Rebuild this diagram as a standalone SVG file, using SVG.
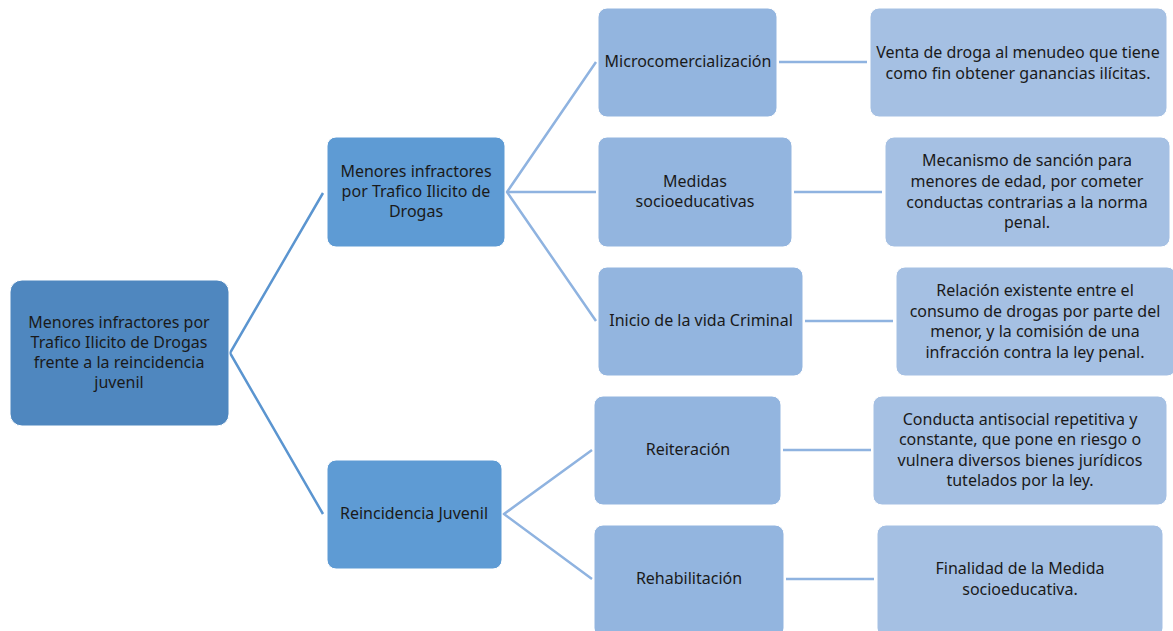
<svg xmlns="http://www.w3.org/2000/svg" width="1173" height="631" viewBox="0 0 1173 631">
<style>
text{font-family:"Noto Sans","Liberation Sans",Arial,sans-serif;font-size:16px;fill:#1a1a1a;text-anchor:middle}
.n0{fill:#4f87bf;stroke:#ffffff;stroke-width:1}
.n1{fill:#5e9bd4;stroke:#ffffff;stroke-width:1}
.n2{fill:#93b5df;stroke:#ffffff;stroke-width:1}
.n3{fill:#a5c0e3;stroke:#ffffff;stroke-width:1}
.c1{stroke:#5b95d0;stroke-width:2.5;fill:none}
.c2{stroke:#8fb3e0;stroke-width:2.5;fill:none}
</style>
<rect width="1173" height="631" fill="#ffffff"/>
<g id="connectors">
<polyline class="c1" points="323,193 230,353 323,514"/>
<polyline class="c2" points="596,62 507,192 596,321"/>
<line class="c2" x1="507" y1="192" x2="596" y2="192"/>
<polyline class="c2" points="592,450 504,514 592,579"/>
<line class="c2" x1="779" y1="62" x2="867" y2="62"/>
<line class="c2" x1="794" y1="192" x2="882" y2="192"/>
<line class="c2" x1="805" y1="321" x2="893" y2="321"/>
<line class="c2" x1="783" y1="450" x2="871" y2="450"/>
<line class="c2" x1="786" y1="579" x2="874" y2="579"/>
</g>
<g id="root">
<rect class="n0" x="10" y="280" width="219" height="146" rx="12"/>
<text x="119" y="328">Menores infractores por</text>
<text x="119" y="348">Trafico Ilicito de Drogas</text>
<text x="119" y="368">frente a la reincidencia</text>
<text x="119" y="388">juvenil</text>
</g>
<g id="menores-trafico">
<rect class="n1" x="327" y="137" width="178" height="110" rx="9"/>
<text x="416" y="177">Menores infractores</text>
<text x="416" y="197">por Trafico Ilicito de</text>
<text x="416" y="217">Drogas</text>
</g>
<g id="reincidencia">
<rect class="n1" x="327" y="460" width="175" height="109" rx="9"/>
<text x="414" y="519">Reincidencia Juvenil</text>
</g>
<g id="microcomercializacion">
<rect class="n2" x="598" y="8" width="179" height="109" rx="9"/>
<text x="688" y="67">Microcomercialización</text>
</g>
<g id="medidas">
<rect class="n2" x="598" y="137" width="194" height="110" rx="9"/>
<text x="695" y="187">Medidas</text>
<text x="695" y="207">socioeducativas</text>
</g>
<g id="inicio">
<rect class="n2" x="598" y="267" width="205" height="109" rx="9"/>
<text x="701" y="326">Inicio de la vida Criminal</text>
</g>
<g id="reiteracion">
<rect class="n2" x="594" y="396" width="187" height="109" rx="9"/>
<text x="688" y="455">Reiteración</text>
</g>
<g id="rehabilitacion">
<rect class="n2" x="594" y="525" width="190" height="112" rx="9"/>
<text x="689" y="584">Rehabilitación</text>
</g>
<g id="def-micro">
<rect class="n3" x="870" y="8" width="297" height="109" rx="9"/>
<text x="1018" y="58">Venta de droga al menudeo que tiene</text>
<text x="1018" y="79">como fin obtener ganancias ilícitas.</text>
</g>
<g id="def-medidas">
<rect class="n3" x="885" y="137" width="285" height="110" rx="9"/>
<text x="1027" y="166">Mecanismo de sanción para</text>
<text x="1027" y="187">menores de edad, por cometer</text>
<text x="1027" y="208">conductas contrarias a la norma</text>
<text x="1027" y="228">penal.</text>
</g>
<g id="def-inicio">
<rect class="n3" x="896" y="267" width="280" height="109" rx="9"/>
<text x="1035" y="296">Relación existente entre el</text>
<text x="1035" y="317">consumo de drogas por parte del</text>
<text x="1035" y="337">menor, y la comisión de una</text>
<text x="1035" y="358">infracción contra la ley penal.</text>
</g>
<g id="def-reiteracion">
<rect class="n3" x="873" y="396" width="294" height="109" rx="9"/>
<text x="1020" y="425">Conducta antisocial repetitiva y</text>
<text x="1020" y="445">constante, que pone en riesgo o</text>
<text x="1020" y="466">vulnera diversos bienes jurídicos</text>
<text x="1020" y="486">tutelados por la ley.</text>
</g>
<g id="def-rehabilitacion">
<rect class="n3" x="877" y="525" width="286" height="112" rx="9"/>
<text x="1020" y="574">Finalidad de la Medida</text>
<text x="1020" y="595">socioeducativa.</text>
</g>
</svg>
